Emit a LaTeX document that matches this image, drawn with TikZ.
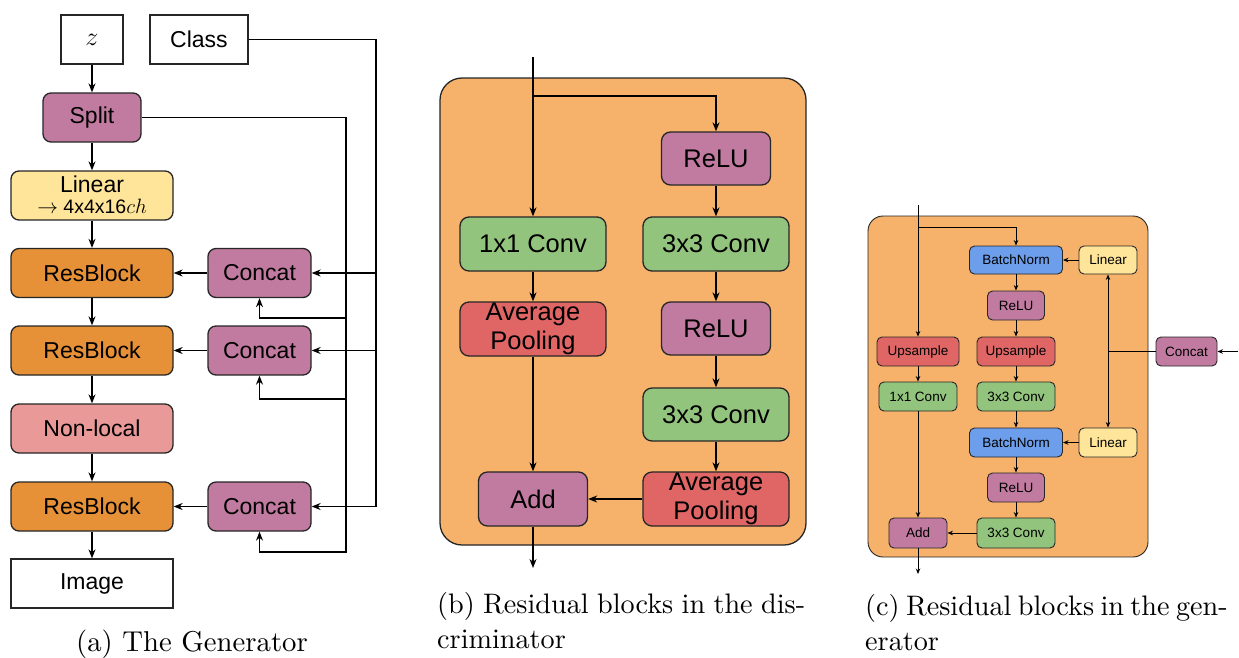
\documentclass[tikz,border=0pt]{standalone}
\usepackage{fontspec}
\usepackage{graphicx}
\newfontfamily\arial{Liberation Sans}
\newfontfamily\capfont{lmroman10-regular.otf}
\usetikzlibrary{arrows.meta}
\definecolor{cpurple}{HTML}{C27BA0}
\definecolor{cyellow}{HTML}{FFE599}
\definecolor{corange}{HTML}{E69138}
\definecolor{cpink}{HTML}{EA9999}
\definecolor{cbg}{HTML}{F6B26B}
\definecolor{cgreen}{HTML}{93C47D}
\definecolor{cred}{HTML}{E06666}
\definecolor{cblue}{HTML}{6D9EEB}
\tikzset{
  blkA/.style={draw=black!85, line width=1.3pt, rounded corners=8pt, inner sep=0pt, font=\arial\fontsize{23}{26}\selectfont},
  sqA/.style={draw=black!85, line width=1.3pt, inner sep=0pt, fill=white, font=\arial\fontsize{23}{26}\selectfont},
  blkB/.style={draw=black!85, line width=1.3pt, rounded corners=9pt, inner sep=0pt, align=center, font=\arial\fontsize{25.5}{28}\selectfont},
  blkC/.style={draw=black!85, line width=0.9pt, rounded corners=5pt, inner sep=0pt, font=\arial\fontsize{13.5}{15}\selectfont},
  arrA/.style={line width=1.3pt, -{Stealth[length=9pt,width=7pt]}},
  lnA/.style={line width=1.3pt},
  arrC/.style={line width=0.9pt, -{Stealth[length=5.5pt,width=4.5pt]}},
  lnC/.style={line width=0.9pt},
  captxt/.style={inner sep=0pt, font=\capfont\fontsize{28.7}{35}\selectfont, align=left},
  captxtb/.style={inner sep=0pt, font=\capfont\fontsize{28.2}{35}\selectfont, align=left}
}
\begin{document}
\begin{tikzpicture}[x=1pt,y=-1pt]
\useasboundingbox (0,0) rectangle (1239,657);
% ---------- panel (a)
\node[sqA, minimum width=62pt, minimum height=49pt] (z) at (92,39.5) {\fontsize{24.88}{26}\selectfont\scalebox{1.05}{$z$}};
\node[sqA, minimum width=98pt, minimum height=49pt] (class) at (199,39.5) {Class};
\node[blkA, fill=cpurple, minimum width=98pt, minimum height=49pt] (split) at (92,117.5) {Split};
\node[blkA, fill=cyellow, minimum width=162pt, minimum height=49pt] (linear) at (92,195.5) {};
\node[inner sep=0pt, anchor=base, font=\arial\fontsize{23}{26}\selectfont] (lintxt1) at (92,192) {Linear};
\node[inner sep=0pt, anchor=base, font=\arial\fontsize{19.5}{21}\selectfont] (lintxt2) at (92,213) {$\rightarrow$ 4x4x16$ch$};
\node[blkA, fill=corange, minimum width=162pt, minimum height=49pt] (rb1) at (92,273) {ResBlock};
\node[blkA, fill=cpurple, minimum width=103pt, minimum height=49pt] (cc1) at (259.5,273) {Concat};
\node[blkA, fill=corange, minimum width=162pt, minimum height=49pt] (rb2) at (92,350.5) {ResBlock};
\node[blkA, fill=cpurple, minimum width=103pt, minimum height=49pt] (cc2) at (259.5,350.5) {Concat};
\node[blkA, fill=cpink, minimum width=162pt, minimum height=49pt] (nl) at (92,428.5) {Non-local};
\node[blkA, fill=corange, minimum width=162pt, minimum height=49pt] (rb3) at (92,506.5) {ResBlock};
\node[blkA, fill=cpurple, minimum width=103pt, minimum height=49pt] (cc3) at (259.5,506.5) {Concat};
\node[sqA, minimum width=162pt, minimum height=49pt] (img) at (92,583.5) {Image};
\draw[arrA] (z) -- (split);
\draw[arrA] (split) -- (linear);
\draw[arrA] (linear) -- (rb1);
\draw[arrA] (rb1) -- (rb2);
\draw[arrA] (rb2) -- (nl);
\draw[arrA] (nl) -- (rb3);
\draw[arrA] (rb3) -- (img);
\draw[arrA] (cc1) -- (rb1);
\draw[arrA] (cc2) -- (rb2);
\draw[arrA] (cc3) -- (rb3);
\coordinate (cr) at (376,506.5);
\draw[arrA] (class.east) -| (cr) -- (cc3.east);
\draw[arrA] (cc1.east -| cr) -- (cc1.east);
\draw[arrA] (cc2.east -| cr) -- (cc2.east);
\coordinate (sr) at (346,552);
\coordinate (s1) at (346,318);
\coordinate (s2) at (346,399);
\draw[arrA] (split.east) -| (sr) -| (cc3.south);
\draw[arrA] (s1) -| (cc1.south);
\draw[arrA] (s2) -| (cc2.south);
\node[captxt, anchor=base] (capa) at (192,651) {(a) The Generator};
% ---------- panel (b)
\draw[lnA, draw=black!85, fill=cbg, rounded corners=22pt] (440,78) rectangle (806,545);
\node[blkB, fill=cpurple, minimum width=109pt, minimum height=53pt] (relu1b) at (716,158.5) {ReLU};
\node[blkB, fill=cgreen, minimum width=146pt, minimum height=54pt] (conv3b1) at (716,244) {3x3 Conv};
\node[blkB, fill=cgreen, minimum width=146pt, minimum height=54pt] (conv1b) at (533,244) {1x1 Conv};
\node[blkB, fill=cred, minimum width=146pt, minimum height=54pt] (poolL) at (533,329) {Average\\[1pt]Pooling};
\node[blkB, fill=cpurple, minimum width=109pt, minimum height=53pt] (relu2b) at (716,328.5) {ReLU};
\node[blkB, fill=cgreen, minimum width=146pt, minimum height=53pt] (conv3b2) at (716,414.5) {3x3 Conv};
\node[blkB, fill=cred, minimum width=146pt, minimum height=54pt] (poolR) at (716,499) {Average\\[1pt]Pooling};
\node[blkB, fill=cpurple, minimum width=109pt, minimum height=54pt] (addb) at (533,499) {Add};
\coordinate (bin) at (533,57);
\coordinate (bsplit) at (533,96);
\coordinate (bout) at (533,568);
\draw[arrA] (bin) -- (conv1b);
\draw[arrA] (bsplit) -| (relu1b);
\draw[arrA] (relu1b) -- (conv3b1);
\draw[arrA] (conv3b1) -- (relu2b);
\draw[arrA] (relu2b) -- (conv3b2);
\draw[arrA] (conv3b2) -- (poolR);
\draw[arrA] (poolR) -- (addb);
\draw[arrA] (conv1b) -- (poolL);
\draw[arrA] (poolL) -- (addb);
\draw[arrA] (addb) -- (bout);
\node[captxtb, anchor=base west] (capb1) at (437,613) {\spaceskip=8.4pt\relax (b) Residual blocks in the dis-};
\node[captxtb, anchor=base west] (capb2) at (437,648) {criminator};
% ---------- panel (c)
\draw[lnC, draw=black!85, fill=cbg, rounded corners=15pt] (868,216) rectangle (1148,557);
\node[blkC, fill=cblue, minimum width=93pt, minimum height=28pt] (bn1) at (1016,260) {BatchNorm};
\node[blkC, fill=cyellow, minimum width=58pt, minimum height=28pt] (lin1) at (1108,260) {Linear};
\node[blkC, fill=cpurple, minimum width=57pt, minimum height=29pt] (relu1c) at (1016,305.5) {ReLU};
\node[blkC, fill=cred, minimum width=82pt, minimum height=29pt] (upL) at (918,351.5) {Upsample};
\node[blkC, fill=cred, minimum width=78pt, minimum height=29pt] (upM) at (1016,351.5) {Upsample};
\node[blkC, fill=cpurple, minimum width=61pt, minimum height=29pt] (ccc) at (1186.5,351.5) {Concat};
\node[blkC, fill=cgreen, minimum width=78pt, minimum height=29pt] (conv1c) at (918,396.5) {1x1 Conv};
\node[blkC, fill=cgreen, minimum width=78pt, minimum height=29pt] (conv3c1) at (1016,396.5) {3x3 Conv};
\node[blkC, fill=cblue, minimum width=93pt, minimum height=29pt] (bn2) at (1016,442.5) {BatchNorm};
\node[blkC, fill=cyellow, minimum width=58pt, minimum height=29pt] (lin2) at (1108,442.5) {Linear};
\node[blkC, fill=cpurple, minimum width=57pt, minimum height=29pt] (relu2c) at (1016,487.5) {ReLU};
\node[blkC, fill=cgreen, minimum width=78pt, minimum height=30pt] (conv3c2) at (1016,533) {3x3 Conv};
\node[blkC, fill=cpurple, minimum width=58pt, minimum height=30pt] (addc) at (918,533) {Add};
\coordinate (cin) at (918,205);
\coordinate (csplit) at (918,227);
\coordinate (cout) at (918,574);
\coordinate (cright) at (1238,351.5);
\coordinate (cj) at (1108,351.5);
\draw[arrC] (cin) -- (upL);
\draw[arrC] (csplit) -| (bn1);
\draw[arrC] (bn1) -- (relu1c);
\draw[arrC] (relu1c) -- (upM);
\draw[arrC] (upM) -- (conv3c1);
\draw[arrC] (conv3c1) -- (bn2);
\draw[arrC] (bn2) -- (relu2c);
\draw[arrC] (relu2c) -- (conv3c2);
\draw[arrC] (conv3c2) -- (addc);
\draw[arrC] (upL) -- (conv1c);
\draw[arrC] (conv1c) -- (addc);
\draw[arrC] (addc) -- (cout);
\draw[arrC] (lin1) -- (bn1);
\draw[arrC] (lin2) -- (bn2);
\draw[arrC] (cright) -- (ccc);
\draw[lnC] (ccc) -- (cj);
\draw[arrC] (cj) -- (lin1);
\draw[arrC] (cj) -- (lin2);
\node[captxtb, anchor=base west] (capc1) at (865,615) {\spaceskip=6.4pt\relax (c) Residual blocks in the gen-};
\node[captxtb, anchor=base west] (capc2) at (865,650) {erator};
\end{tikzpicture}
\end{document}
